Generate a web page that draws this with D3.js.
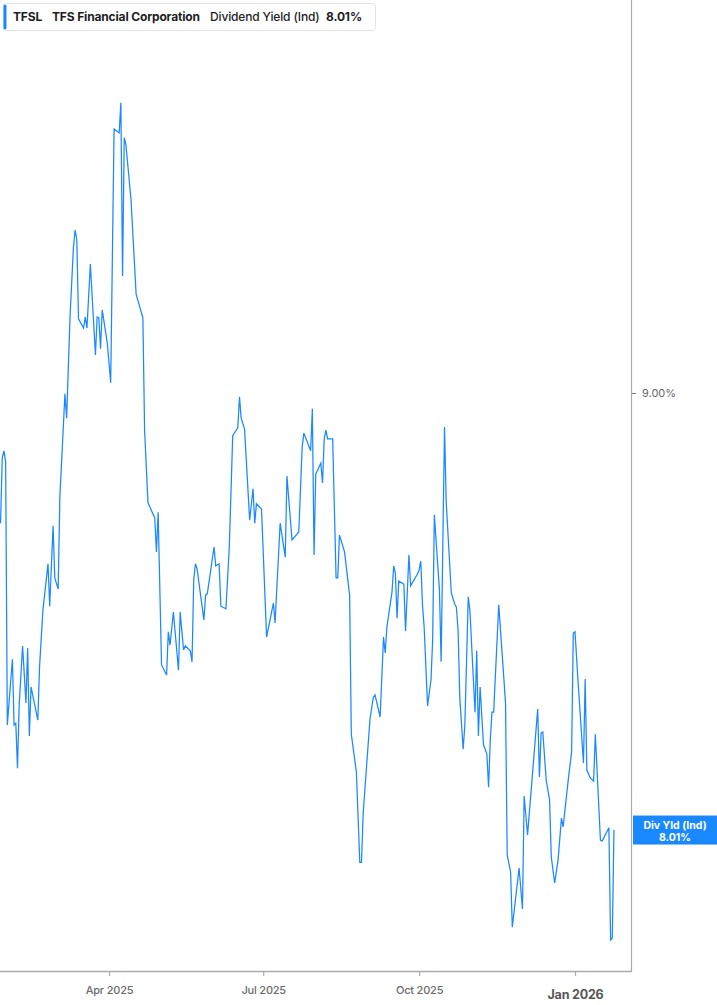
<!DOCTYPE html>
<html>
<head>
<meta charset="utf-8">
<script src="https://cdn.jsdelivr.net/npm/d3@7"></script>
<style>
  html, body { margin: 0; padding: 0; background: #ffffff; }
  svg { display: block; font-family: Inter, "Noto Sans", sans-serif; }
</style>
</head>
<body>
<svg id="chart" width="717" height="1005"></svg>
<script>
// ---------------- data ----------------
const ticker = "TFSL";
const company = "TFS Financial Corporation";
const metric = "Dividend Yield (Ind)";
const currentYield = 8.01;
const badgeLabel = "Div Yld (Ind)";

const dates = [
  "2025-01-27","2025-01-28","2025-01-29","2025-01-30","2025-01-31","2025-02-03","2025-02-04","2025-02-05","2025-02-06","2025-02-07",
  "2025-02-09","2025-02-11","2025-02-12","2025-02-13","2025-02-14","2025-02-18","2025-02-19","2025-02-21","2025-02-24","2025-02-25",
  "2025-02-27","2025-02-28","2025-03-02","2025-03-03","2025-03-06","2025-03-07","2025-03-09","2025-03-11","2025-03-12","2025-03-13",
  "2025-03-14","2025-03-17","2025-03-18","2025-03-19","2025-03-21","2025-03-24","2025-03-25","2025-03-26","2025-03-27","2025-03-28",
  "2025-03-31","2025-04-02","2025-04-04","2025-04-07","2025-04-08","2025-04-09","2025-04-10","2025-04-11","2025-04-14","2025-04-17",
  "2025-04-21","2025-04-22","2025-04-24","2025-04-28","2025-04-29","2025-04-30","2025-05-02","2025-05-05","2025-05-06","2025-05-07",
  "2025-05-09","2025-05-12","2025-05-13","2025-05-15","2025-05-16","2025-05-19","2025-05-20","2025-05-21","2025-05-22","2025-05-23",
  "2025-05-27","2025-05-28","2025-05-29","2025-06-02","2025-06-03","2025-06-05","2025-06-06","2025-06-09","2025-06-11","2025-06-13",
  "2025-06-16","2025-06-17","2025-06-18","2025-06-20","2025-06-23","2025-06-25","2025-06-26","2025-06-27","2025-06-30","2025-07-03",
  "2025-07-07","2025-07-08","2025-07-11","2025-07-14","2025-07-15","2025-07-18","2025-07-22","2025-07-24","2025-07-25","2025-07-29",
  "2025-07-30","2025-07-31","2025-08-01","2025-08-04","2025-08-05","2025-08-06","2025-08-07","2025-08-08","2025-08-11","2025-08-13",
  "2025-08-14","2025-08-15","2025-08-18","2025-08-21","2025-08-22","2025-08-25","2025-08-27","2025-08-28","2025-08-29","2025-09-02",
  "2025-09-04","2025-09-05","2025-09-08","2025-09-10","2025-09-11","2025-09-12","2025-09-15","2025-09-16","2025-09-17","2025-09-18",
  "2025-09-19","2025-09-22","2025-09-23","2025-09-25","2025-09-26","2025-09-30","2025-10-01","2025-10-02","2025-10-03","2025-10-04",
  "2025-10-06","2025-10-08","2025-10-09","2025-10-10","2025-10-11","2025-10-13","2025-10-14","2025-10-16","2025-10-17","2025-10-20",
  "2025-10-22","2025-10-23","2025-10-24","2025-10-25","2025-10-27","2025-10-28","2025-10-30","2025-10-31","2025-11-03","2025-11-04",
  "2025-11-05","2025-11-06","2025-11-08","2025-11-10","2025-11-11","2025-11-12","2025-11-13","2025-11-14","2025-11-17","2025-11-21",
  "2025-11-22","2025-11-24","2025-11-25","2025-11-29","2025-12-01","2025-12-02","2025-12-04","2025-12-10","2025-12-11","2025-12-12",
  "2025-12-13","2025-12-15","2025-12-17","2025-12-18","2025-12-20","2025-12-22","2025-12-24","2025-12-25","2025-12-28","2025-12-30",
  "2025-12-31","2026-01-01","2026-01-03","2026-01-06","2026-01-07","2026-01-08","2026-01-10","2026-01-12","2026-01-13","2026-01-16",
  "2026-01-17","2026-01-21","2026-01-22","2026-01-23","2026-01-24"
];

const yields = [
  8.705,8.853,8.869,8.844,8.248,8.397,8.248,8.252,8.150,8.293,
  8.427,8.298,8.422,8.223,8.334,8.259,8.379,8.508,8.613,8.517,
  8.699,8.581,8.556,8.764,8.998,8.943,9.172,9.329,9.369,9.347,
  9.168,9.147,9.172,9.147,9.292,9.086,9.172,9.170,9.100,9.188,
  9.113,9.023,9.598,9.589,9.657,9.265,9.578,9.562,9.437,9.224,
  9.170,8.916,8.751,8.717,8.640,8.730,8.384,8.361,8.459,8.429,
  8.504,8.372,8.504,8.418,8.427,8.416,8.391,8.576,8.613,8.601,
  8.486,8.542,8.545,8.651,8.608,8.613,8.517,8.511,8.651,8.903,
  8.921,8.991,8.943,8.918,8.712,8.783,8.705,8.749,8.737,8.447,
  8.524,8.479,8.705,8.628,8.812,8.667,8.685,8.878,8.909,8.869,
  8.964,8.633,8.816,8.841,8.796,8.896,8.916,8.896,8.896,8.581,
  8.581,8.678,8.640,8.542,8.227,8.141,7.937,7.937,8.048,8.261,
  8.311,8.316,8.266,8.447,8.411,8.470,8.549,8.608,8.592,8.490,
  8.574,8.567,8.461,8.633,8.563,8.590,8.599,8.619,8.520,8.468,
  8.291,8.350,8.440,8.724,8.667,8.554,8.391,8.923,8.753,8.547,
  8.522,8.515,8.463,8.311,8.193,8.248,8.538,8.506,8.277,8.416,
  8.223,8.334,8.203,8.182,8.107,8.214,8.277,8.277,8.520,8.298,
  7.953,7.915,7.790,7.924,7.831,8.087,7.999,8.284,8.130,8.230,
  8.232,8.123,8.078,7.949,7.890,7.942,8.037,8.017,8.123,8.187,
  8.456,8.459,8.334,8.162,8.352,8.146,8.128,8.121,8.227,7.987,
  7.985,8.015,7.761,7.765,8.010
];

const xTickDates = ["2025-04-01","2025-07-01","2025-10-01","2026-01-01"];
const xTickLabels = ["Apr 2025","Jul 2025","Oct 2025","Jan 2026"];
const yTickValues = [9.00];
const yDomain = [7.693, 9.890];

// ---------------- drawing ----------------
const parse = d3.timeParse("%Y-%m-%d");
const data = dates.map((d, i) => ({ date: parse(d), value: yields[i] }));

const W = 717, H = 1005;
const plotRight = 631, plotBottom = 971;
const lineColor = "#1a88ff";

const svg = d3.select("#chart");

const x = d3.scaleTime()
  .domain([parse(xTickDates[0]), parse(xTickDates[3])])
  .range([109, 575]);

const y = d3.scaleLinear()
  .domain(yDomain)
  .range([970, 0]);

// clip
svg.append("defs").append("clipPath").attr("id", "plotclip")
  .append("rect").attr("x", 0).attr("y", 0).attr("width", plotRight).attr("height", plotBottom);

// line
const line = d3.line().x(d => x(d.date)).y(d => y(d.value));
svg.append("path")
  .datum(data)
  .attr("clip-path", "url(#plotclip)")
  .attr("fill", "none")
  .attr("stroke", lineColor)
  .attr("stroke-width", 1.25)
  .attr("stroke-linejoin", "miter")
  .attr("d", line);

// frame lines
svg.append("line")
  .attr("x1", plotRight + 0.5).attr("x2", plotRight + 0.5)
  .attr("y1", 0).attr("y2", plotBottom)
  .attr("stroke", "#ababab").attr("stroke-width", 1.2);

// x axis
const xTickParsed = xTickDates.map(parse);
const xAxis = d3.axisBottom(x)
  .tickValues(xTickParsed)
  .tickSize(5)
  .tickPadding(10)
  .tickFormat((d, i) => xTickLabels[i]);

const gx = svg.append("g")
  .attr("transform", `translate(0,${plotBottom})`)
  .call(xAxis);
gx.select(".domain").remove();
gx.append("line")
  .attr("x1", 0).attr("x2", plotRight + 1)
  .attr("y1", 0.5).attr("y2", 0.5)
  .attr("stroke", "#ababab").attr("stroke-width", 1.4);
gx.selectAll(".tick line").attr("stroke", "#ababab").attr("stroke-width", 1.2);
gx.selectAll(".tick text")
  .attr("fill", "#6b6b6b")
  .attr("font-family", "Inter, sans-serif")
  .attr("font-size", 11)
  .attr("font-weight", 500)
  .attr("letter-spacing", "-0.2");
gx.selectAll(".tick text").filter((d, i) => i === 3)
  .attr("font-size", 12.5)
  .attr("font-weight", 700)
  .attr("fill", "#555555")
  .attr("dy", "1.05em");

// y axis (right)
const yAxis = d3.axisRight(y)
  .tickValues(yTickValues)
  .tickSize(4)
  .tickPadding(6)
  .tickFormat(d => d3.format(".2f")(d) + "%");
const gy = svg.append("g")
  .attr("transform", `translate(${plotRight + 1},0)`)
  .call(yAxis);
gy.select(".domain").remove();
gy.selectAll(".tick line").attr("stroke", "#777").attr("stroke-width", 1);
gy.selectAll(".tick text")
  .attr("fill", "#666")
  .attr("font-family", "Inter, sans-serif")
  .attr("font-size", 11);

// current value badge
const yc = y(currentYield);
const badge = svg.append("g");
badge.append("rect")
  .attr("x", plotRight + 2).attr("y", yc - 14.5)
  .attr("width", W - plotRight - 2).attr("height", 29)
  .attr("fill", lineColor);
badge.append("text")
  .attr("x", 675).attr("y", yc - 1.5)
  .attr("text-anchor", "middle")
  .attr("fill", "#fff").attr("font-size", 10.5).attr("font-weight", 700)
  .text(badgeLabel);
badge.append("text")
  .attr("x", 675).attr("y", yc + 10.5)
  .attr("text-anchor", "middle")
  .attr("fill", "#fff").attr("font-size", 10.5).attr("font-weight", 700)
  .text(d3.format(".2f")(currentYield) + "%");

// legend box
const legend = svg.append("g");
legend.append("rect")
  .attr("x", 3.5).attr("y", 3.5).attr("width", 372).attr("height", 27)
  .attr("rx", 3).attr("fill", "#fff")
  .attr("stroke", "#e3e3e3").attr("stroke-width", 1);
legend.append("rect")
  .attr("x", 3.5).attr("y", 4.5).attr("width", 3).attr("height", 25)
  .attr("rx", 1.5).attr("fill", lineColor);
const legendItems = [
  { text: ticker, x: 13, weight: 700 },
  { text: company, x: 52, weight: 700 },
  { text: metric, x: 210, weight: 500 },
  { text: d3.format(".2f")(currentYield) + "%", x: 326, weight: 700 }
];
legend.selectAll("text.leg")
  .data(legendItems)
  .join("text")
  .attr("class", "leg")
  .attr("x", d => d.x).attr("y", 21)
  .attr("fill", "#1d1d1f")
  .attr("font-size", 12)
  .attr("font-weight", d => d.weight)
  .attr("letter-spacing", "-0.15")
  .text(d => d.text);
</script>
</body>
</html>
